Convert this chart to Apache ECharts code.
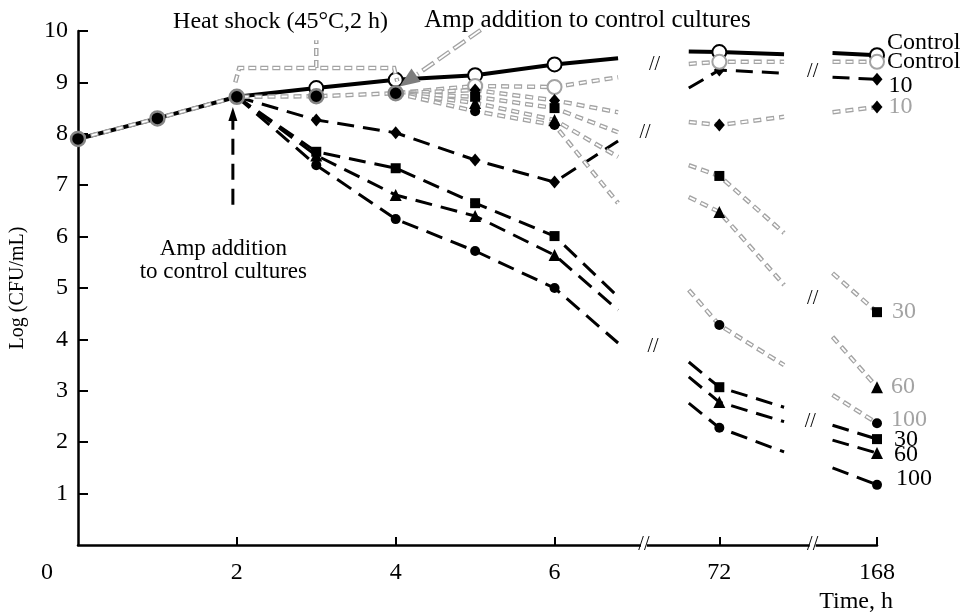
<!DOCTYPE html>
<html>
<head>
<meta charset="utf-8">
<style>
  html, body { margin: 0; padding: 0; background: #fff; }
  #main { width: 963px; height: 614px; }
</style>
<script src="https://cdn.jsdelivr.net/npm/echarts@6.0.0/dist/echarts.min.js"></script>
</head>
<body>
<div id="main"></div>
<script>
// tick labels and where they sit on the broken time axis
const timeLabels = ['0', '2', '4', '6', '72', '168'];
const timePos = [0, 2, 4, 6, 8.075, 10.06];
const timeTicks = [2, 4, 6, 8.075, 10.06];
const yTicks = [1, 2, 3, 4, 5, 6, 7, 8, 9, 10];

// value slots: 0..6 h, stub after 6 h, stub before 72 h, 72 h, stub after 72 h, stub before 168 h, 168 h
const slotX = [0, 1, 2, 3, 4, 5, 6, 6.8, 7.69, 8.075, 8.89, 9.5, 10.06];
const measured = [1, 1, 1, 1, 1, 1, 1, 0, 0, 1, 0, 0, 1];
const gapAfter = [7, 10];

// black lines
const blackControl = [7.9, 8.3, 8.72, 8.89, 9.05, 9.14, 9.35, 9.47, 9.6, 9.59, 9.55, 9.57, 9.53];
const black10 = [null, null, 8.72, 8.27, 8.02, 7.49, 7.06, 7.86, 8.89, 9.24, 9.18, 9.1, 9.06];
const black30 = [null, null, 8.72, 7.65, 7.33, 6.65, 6.01, 4.83, 3.56, 3.07, 2.68, 2.33, 2.06];
const black60 = [null, null, 8.72, 7.58, 6.81, 6.4, 5.64, 4.57, 3.27, 2.78, 2.4, 2.04, 1.79];
const black100 = [null, null, 8.72, 7.39, 6.34, 5.72, 5.0, 3.93, 2.76, 2.28, 1.81, 1.5, 1.17];
// grey lines
const grayControl = [7.9, 8.3, 8.72, 8.73, 8.79, 8.93, 8.91, 9.1, 9.36, 9.4, 9.4, 9.4, 9.4];
const gray10 = [null, null, null, null, 8.79, 8.85, 8.65, 8.42, 8.23, 8.17, 8.33, 8.42, 8.52];
const gray30 = [null, null, null, null, 8.79, 8.72, 8.5, 8.03, 7.39, 7.18, 6.07, 5.29, 4.53];
const gray60 = [null, null, null, null, 8.79, 8.6, 8.27, 7.55, 6.77, 6.48, 5.06, 4.05, 3.07];
const gray100 = [null, null, null, null, 8.79, 8.44, 8.17, 6.65, 4.96, 4.28, 3.5, 2.92, 2.37];

const FONT = '"Liberation Serif", "DejaVu Serif", serif';
const GREY = '#a3a3a3';

const marks = {
  open: { symbol: 'circle', symbolSize: 14, itemStyle: { color: '#fff', borderColor: '#000', borderWidth: 2 } },
  openGray: { symbol: 'circle', symbolSize: 14, itemStyle: { color: '#fff', borderColor: GREY, borderWidth: 2 } },
  joint: { symbol: 'circle', symbolSize: 14, itemStyle: { color: '#000', borderColor: '#858585', borderWidth: 2.5 } },
  diamond: { symbol: 'diamond', symbolSize: [11, 13], itemStyle: { color: '#000' } },
  square: { symbol: 'rect', symbolSize: 10, itemStyle: { color: '#000' } },
  triangle: { symbol: 'triangle', symbolSize: 12, itemStyle: { color: '#000' } },
  dot: { symbol: 'circle', symbolSize: 10, itemStyle: { color: '#000' } }
};

const defs = [
  { vals: blackControl, kind: 'solid', mark: 'open', early: 2, earlyMark: null, lab: ['Control', '#000', 2, -12] },
  { vals: black10, kind: 'dash', mark: 'diamond', early: 2, earlyMark: null, lab: ['10', '#000', 6, 6] },
  { vals: black30, kind: 'dash', mark: 'square', early: 2, earlyMark: null, lab: ['30', '#000', 12, 1] },
  { vals: black60, kind: 'dash', mark: 'triangle', early: 2, earlyMark: null, lab: ['60', '#000', 11, 2] },
  { vals: black100, kind: 'dash', mark: 'dot', early: 2, earlyMark: null, lab: ['100', '#000', 14, -6] },
  { vals: grayControl, kind: 'hollow', mark: 'openGray', early: 4, earlyMark: 'joint', lab: ['Control', '#000', 2, 0] },
  { vals: gray10, kind: 'hollow', mark: 'diamond', early: 4, earlyMark: null, lab: ['10', GREY, 6, 0] },
  { vals: gray30, kind: 'hollow', mark: 'square', early: 4, earlyMark: null, lab: ['30', GREY, 10, 0] },
  { vals: gray60, kind: 'hollow', mark: 'triangle', early: 4, earlyMark: null, lab: ['60', GREY, 8, 0] },
  { vals: gray100, kind: 'hollow', mark: 'dot', early: 4, earlyMark: null, lab: ['100', GREY, 9, -3] }
];

function lineData(vals) {
  const out = [];
  vals.forEach((v, i) => {
    if (v == null) return;
    out.push([slotX[i], v]);
    if (gapAfter.includes(i)) out.push([slotX[i], null]);
  });
  return out;
}

function markerData(d) {
  const out = [];
  let last = -1;
  d.vals.forEach((v, i) => { if (v != null && measured[i]) last = i; });
  d.vals.forEach((v, i) => {
    if (v == null || !measured[i]) return;
    const m = i <= d.early ? d.earlyMark : d.mark;
    if (!m) return;
    const item = Object.assign({ value: [slotX[i], v] }, marks[m]);
    item.itemStyle = Object.assign({ opacity: 1 }, item.itemStyle);
    if (i === last) {
      item.label = {
        show: true, position: 'right', formatter: d.lab[0], color: d.lab[1],
        distance: d.lab[2], offset: [0, d.lab[3]], fontSize: 24, fontFamily: FONT
      };
    }
    out.push(item);
  });
  return out;
}

const series = [];
defs.forEach((d) => {
  const data = lineData(d.vals);
  const base = { type: 'line', data, showSymbol: false, silent: true, animation: false, connectNulls: false };
  if (d.kind === 'solid') {
    series.push(Object.assign({}, base, { z: 2, lineStyle: { color: '#000', width: 4 } }));
  } else if (d.kind === 'dash') {
    series.push(Object.assign({}, base, { z: 2, lineStyle: { color: '#000', width: 3, type: [17, 9] } }));
  } else {
    series.push(Object.assign({}, base, { z: 3, lineStyle: { color: GREY, width: 4.5, type: [8, 5] } }));
    series.push(Object.assign({}, base, { z: 3, lineStyle: { color: '#fff', width: 1.8, type: [6, 7], dashOffset: -1 } }));
  }
});
defs.forEach((d) => {
  series.push({ type: 'scatter', z: 5, silent: true, animation: false, itemStyle: { opacity: 1 }, data: markerData(d) });
});

const chart = echarts.init(document.getElementById('main'));
chart.setOption({
  animation: false,
  grid: { left: 72, right: 86, top: 31, bottom: 69 },
  xAxis: {
    type: 'value', min: 0, max: 10.06,
    name: 'Time, h', nameLocation: 'end', nameGap: 16,
    nameTextStyle: { fontSize: 24, fontFamily: FONT, color: '#000', align: 'right', verticalAlign: 'top', padding: [45, 0, 0, 0] },
    axisLine: { lineStyle: { color: '#000', width: 2.5 } },
    axisTick: { show: true, inside: true, length: 8, lineStyle: { color: '#000', width: 2 }, customValues: timeTicks },
    axisLabel: {
      customValues: timePos, margin: 16, color: '#000', fontSize: 24, fontFamily: FONT,
      formatter: (v) => {
        const i = timePos.findIndex((p) => Math.abs(p - v) < 1e-6);
        return i === 0 ? '{o|' + timeLabels[0] + '}' : timeLabels[i];
      },
      rich: { o: { fontSize: 24, fontFamily: FONT, color: '#000', padding: [0, 62, 0, 0] } }
    },
    splitLine: { show: false }
  },
  yAxis: {
    type: 'value', min: 0, max: 10,
    name: 'Log (CFU/mL)', nameLocation: 'middle', nameGap: 50, nameRotate: 90,
    nameTextStyle: { fontSize: 20, fontFamily: FONT, color: '#000' },
    axisLine: { show: true, lineStyle: { color: '#000', width: 2.5 } },
    axisTick: { show: true, inside: true, length: 10, lineStyle: { color: '#000', width: 2 }, customValues: yTicks },
    axisLabel: { customValues: yTicks, margin: 10, color: '#000', fontSize: 24, fontFamily: FONT },
    splitLine: { show: false }
  },
  series
});

// annotations, placed in data coordinates
const ann = {
  heatText: [2.55, 10.18],
  bracket: [[1.98, 9.0], [2.03, 9.28], [3.98, 9.28], [4.02, 9.02]],
  bracketTick: [[3, 9.28], [3, 9.82]],
  ampTopText: [4.36, 10.2],
  ampTopArrow: [[5.07, 10.02], [4.05, 8.92]],
  ampLeftText: [1.83, 5.53],
  ampLeftArrow: [[1.95, 6.62], [1.95, 8.52]],
  breaksAxis: [7.125, 9.25],
  breaksPlot: [[7.26, 9.34], [7.14, 8.03], [9.25, 9.2], [9.25, 4.8], [7.24, 3.85], [9.22, 2.39]]
};
const px = (p) => chart.convertToPixel({ gridIndex: 0 }, p);

function hollow(points, dash) {
  return [
    { type: 'polyline', z: 10, shape: { points }, style: { stroke: GREY, lineWidth: 4.5, lineDash: dash, fill: null } },
    { type: 'polyline', z: 11, shape: { points }, style: { stroke: '#fff', lineWidth: 1.8, lineDash: [dash[0] - 2, dash[1] + 2], lineDashOffset: -1, fill: null } }
  ];
}
function head(from, tip, len, half, color) {
  const dx = tip[0] - from[0], dy = tip[1] - from[1];
  const l = Math.hypot(dx, dy), ux = dx / l, uy = dy / l;
  const bx = tip[0] - ux * len, by = tip[1] - uy * len;
  return { type: 'polygon', z: 12, shape: { points: [tip, [bx - uy * half, by + ux * half], [bx + uy * half, by - ux * half]] }, style: { fill: color } };
}
function text(p, str, opts) {
  return { type: 'text', z: 12, x: p[0], y: p[1], style: Object.assign({ text: str, fontSize: 24, fontFamily: FONT, fill: '#000', align: 'center', verticalAlign: 'middle' }, opts || {}) };
}

const g = [];
g.push(text(px(ann.heatText), 'Heat shock (45°C,2 h)'));
g.push(...hollow(ann.bracket.map(px), [8, 4]));
g.push(...hollow(ann.bracketTick.map(px), [8, 4]));
g.push(text(px(ann.ampTopText), 'Amp addition to control cultures', { align: 'left', fontSize: 25 }));
const topA = px(ann.ampTopArrow[0]), topB = px(ann.ampTopArrow[1]);
const topEnd = [topB[0] + (topA[0] - topB[0]) * 0.22, topB[1] + (topA[1] - topB[1]) * 0.22];
g.push(...hollow([topA, topEnd], [14, 5]));
g.push(head(topA, topB, 20, 8, '#7d7d7d'));
g.push(text(px(ann.ampLeftText), 'Amp addition\nto control cultures', { lineHeight: 23, fontSize: 23 }));
const lA = px(ann.ampLeftArrow[0]), lB = px(ann.ampLeftArrow[1]);
g.push({ type: 'polyline', z: 10, shape: { points: [lA, [lB[0], lB[1] + 12]] }, style: { stroke: '#000', lineWidth: 3, lineDash: [16, 9], fill: null } });
g.push(head(lA, lB, 14, 4.5, '#000'));
ann.breaksAxis.forEach((x) => {
  const p = px([x, 0]);
  g.push({ type: 'rect', z: 11, shape: { x: p[0] - 3, y: p[1] - 4, width: 6, height: 8 }, style: { fill: '#fff' } });
  g.push(text(p, '//', { fontSize: 20 }));
});
ann.breaksPlot.forEach((b) => g.push(text(px(b), '//', { fontSize: 20 })));

chart.setOption({ graphic: g });
</script>
</body>
</html>
